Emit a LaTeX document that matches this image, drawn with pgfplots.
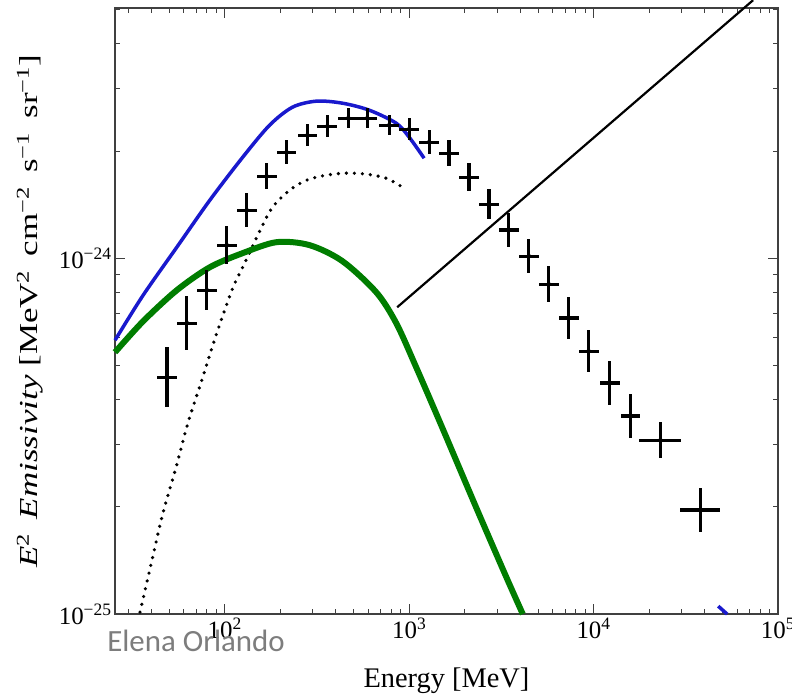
\documentclass[border=0pt]{standalone}
\usepackage{fontspec}
\setmainfont{Liberation Serif}
\newfontfamily\carlito{Carlito}
\usepackage{graphicx}
\usepackage{pgfplots}
\pgfplotsset{compat=1.18}
\usepackage{pgfplotstable}
\definecolor{mblue}{RGB}{25,25,205}
\definecolor{mgreen}{RGB}{0,125,0}
\definecolor{wgray}{RGB}{125,125,125}

\pgfplotstableread{
x y xp xm yp ym
48.6 4.63e-25 0.132 0.117 0.214 0.176
62.3 6.57e-25 0.132 0.117 0.191 0.160
79.9 8.13e-25 0.132 0.117 0.138 0.121
102.5 1.088e-24 0.132 0.117 0.131 0.116
131.5 1.364e-24 0.132 0.117 0.116 0.104
168.7 1.699e-24 0.132 0.117 0.088 0.081
216.3 1.985e-24 0.132 0.117 0.081 0.075
280.9 2.216e-24 0.132 0.117 0.074 0.069
360.4 2.349e-24 0.132 0.117 0.074 0.069
468.1 2.474e-24 0.132 0.117 0.067 0.063
592.9 2.474e-24 0.132 0.117 0.067 0.063
779.5 2.364e-24 0.132 0.117 0.067 0.063
1000 2.303e-24 0.132 0.117 0.074 0.069
1283 2.118e-24 0.132 0.117 0.081 0.075
1645 1.972e-24 0.132 0.117 0.088 0.081
2110 1.689e-24 0.132 0.117 0.095 0.087
2706 1.418e-24 0.132 0.117 0.102 0.092
3472 1.199e-24 0.132 0.117 0.116 0.104
4454 1.013e-24 0.132 0.117 0.116 0.104
5712 8.45e-25 0.132 0.117 0.124 0.110
7326 6.79e-25 0.132 0.117 0.146 0.127
9397 5.48e-25 0.132 0.117 0.146 0.127
12210 4.46e-25 0.132 0.117 0.153 0.133
15849 3.60e-25 0.132 0.117 0.153 0.133
23030 3.08e-25 0.299 0.230 0.124 0.110
37870 1.96e-25 0.283 0.220 0.153 0.133
}\datatab

\pgfplotstableread{
x y
25.4 5.88e-25
36.1 7.87e-25
55.0 1.074e-24
83.0 1.455e-24
125.1 1.921e-24
175.1 2.364e-24
233.2 2.656e-24
314.4 2.761e-24
434.4 2.725e-24
607.8 2.604e-24
850.6 2.394e-24
1000 2.187e-24
1205 1.909e-24
}\bluetab

\pgfplotstableread{
x y
25.4 5.44e-25
36.1 6.65e-25
55.0 8.13e-25
83.0 9.43e-25
125.1 1.033e-24
191.0 1.109e-24
288.0 1.088e-24
434.4 9.81e-25
663.1 8.02e-25
850.6 6.57e-25
1091 4.94e-25
1508 3.35e-25
2302 2.00e-25
3344 1.279e-25
4132 1.0e-25
}\greentab

\pgfplotstableread{
x y
34.7 1.013e-25
40.3 1.418e-25
46.2 1.922e-25
54.3 2.571e-25
63.1 3.44e-25
76.0 4.63e-25
90.5 6.16e-25
110.5 8.24e-25
125.1 9.43e-25
158.5 1.222e-24
181.7 1.391e-24
224.6 1.552e-24
277.5 1.656e-24
355.9 1.711e-24
456.6 1.733e-24
585.5 1.722e-24
751.0 1.677e-24
939.7 1.573e-24
}\dottab

\begin{document}
\begin{tikzpicture}
\begin{axis}[
  at={(0,0)}, anchor=south west,
  scale only axis, width=663bp, height=606bp,
  xmode=log, ymode=log,
  xmin=25.4, xmax=1e5, ymin=1e-25, ymax=5.04e-24,
  xtick={100,1000,10000,100000},
  xticklabels={10\textsuperscript{2},10\textsuperscript{3},10\textsuperscript{4},10\textsuperscript{5}},
  ytick={1e-25,1e-24},
  yticklabels={10\textsuperscript{−25},10\textsuperscript{−24}},
  minor xtick={30,40,50,60,70,80,90,200,300,400,500,600,700,800,900,2000,3000,4000,5000,6000,7000,8000,9000,20000,30000,40000,50000,60000,70000,80000,90000},
  minor ytick={2e-25,3e-25,4e-25,5e-25,6e-25,7e-25,8e-25,9e-25,2e-24,3e-24,4e-24,5e-24},
  tick align=inside,
  major tick length=10bp, minor tick length=5bp,
  every tick/.style={black!75, line width=1bp},
  axis line style={black!75, line width=1.8bp},
  ticklabel style={font=\fontsize{25}{25}\selectfont},
  xlabel={Energy [MeV]},
  xlabel style={font=\fontsize{28.5}{28.5}\selectfont, at={(axis description cs:0.5,-0.11)}, anchor=center},
  ylabel={\scalebox{1.35}[1]{\textit{E}\textsuperscript{2}\hspace{0.4em}\textit{Emissivity} [MeV\textsuperscript{2}\hspace{0.4em}cm\textsuperscript{−2}\hspace{0.4em}s\textsuperscript{−1}\hspace{0.4em}sr\textsuperscript{−1}]}},
  ylabel style={font=\fontsize{26}{26}\selectfont, at={(axis description cs:-0.128,0.5)}, anchor=center},
  clip=false,
]
\addplot[black, line width=3.6bp, line cap=round, dash pattern=on 0pt off 8bp, smooth] table[x=x,y=y]{\dottab};
\addplot[mblue, line width=3.5bp, smooth] table[x=x,y=y]{\bluetab};
\addplot[mblue, line width=3.5bp] coordinates {(47400,1.053e-25) (53000,1e-25)};
\addplot[mgreen, line width=6bp, smooth] table[x=x,y=y]{\greentab};
\addplot[black, only marks, mark=none,
  error bars/.cd, x dir=both, y dir=both, x explicit relative, y explicit relative,
  error mark=none, error bar style={line width=3.2bp, black}]
  table[x=x, y=y, x error plus=xp, x error minus=xm, y error plus=yp, y error minus=ym]{\datatab};
\addplot[black, line width=2.2bp] coordinates {(861,7.28e-25) (73280,5.305e-24)};
\end{axis}
\node[anchor=base, text=wgray, font=\carlito\fontsize{31}{31}\selectfont] at (81bp,-37bp) {Elena Orlando};
\pgfresetboundingbox
\path[use as bounding box] (-115bp,-83bp) rectangle (677bp,614bp);
\end{tikzpicture}
\end{document}
